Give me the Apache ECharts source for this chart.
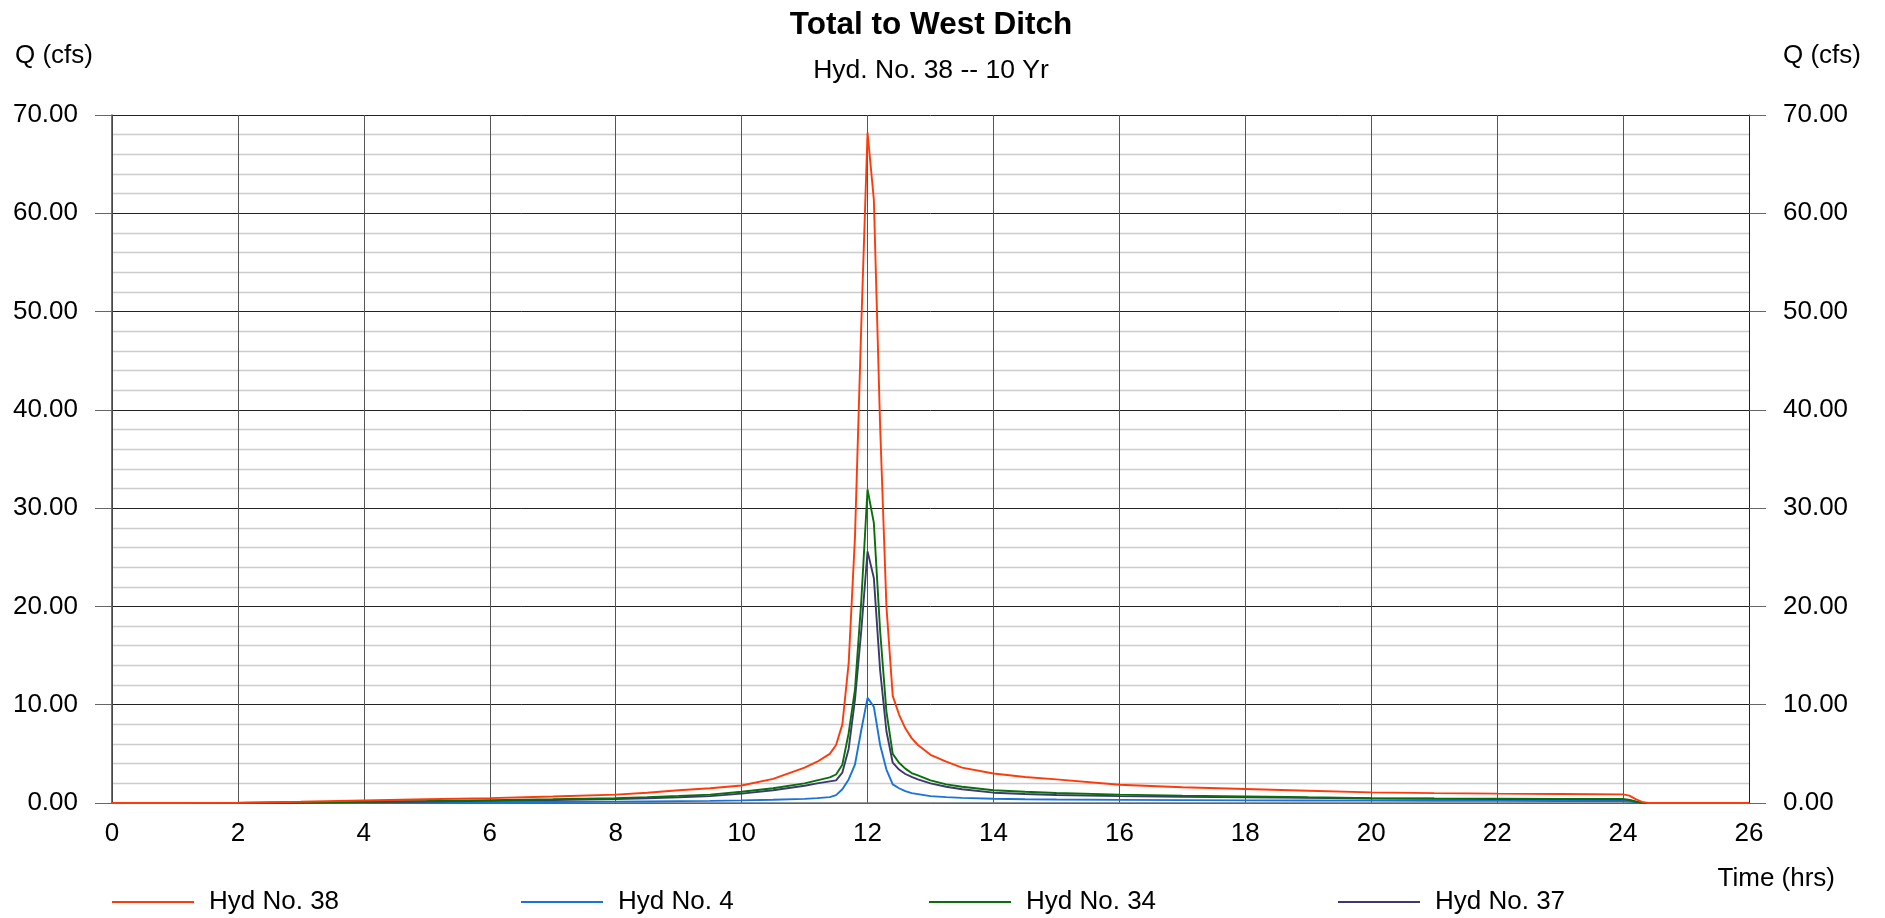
<!DOCTYPE html>
<html>
<head>
<meta charset="utf-8">
<script src="https://cdn.jsdelivr.net/npm/echarts@6/dist/echarts.min.js"></script>
<style>
html,body{margin:0;padding:0;background:#fff;}
#chart{width:1885px;height:918px;}
</style>
</head>
<body>
<div id="chart"></div>
<script>
var titleText = 'Total to West Ditch';
var subtitleText = 'Hyd. No. 38 -- 10 Yr';
var yAxisName = 'Q (cfs)';
var xAxisName = 'Time (hrs)';

var timeHrs = [0, 1, 2, 3, 4, 5, 6, 7, 8, 8.5, 9, 9.5, 10, 10.5, 11, 11.2, 11.4, 11.5, 11.6, 11.7, 11.8, 11.9, 12.0, 12.1, 12.2, 12.3, 12.4, 12.5, 12.6, 12.7, 12.8, 13.0, 13.25, 13.5, 14, 14.5, 15, 16, 17, 18, 19, 20, 21, 22, 23, 24, 24.1, 24.2, 24.3, 24.4, 25, 26];

var hyd38 = [0, 0, 0.02, 0.12, 0.26, 0.38, 0.5, 0.66, 0.85, 1.05, 1.3, 1.5, 1.78, 2.45, 3.6, 4.2, 5.0, 5.9, 8.0, 14.2, 27, 48.5, 68.2, 61.4, 38.3, 20, 10.9, 9.0, 7.6, 6.6, 5.9, 4.9, 4.2, 3.6, 3.0, 2.65, 2.4, 1.85, 1.6, 1.42, 1.25, 1.08, 1.0, 0.95, 0.92, 0.88, 0.75, 0.4, 0.12, 0, 0, 0];
var hyd4 = [0, 0, 0, 0.01, 0.03, 0.05, 0.07, 0.1, 0.14, 0.16, 0.19, 0.22, 0.27, 0.33, 0.42, 0.5, 0.6, 0.8, 1.4, 2.4, 3.9, 7.4, 10.7, 9.8, 5.9, 3.4, 1.9, 1.5, 1.2, 1.0, 0.9, 0.7, 0.6, 0.52, 0.43, 0.38, 0.35, 0.32, 0.29, 0.27, 0.25, 0.24, 0.23, 0.22, 0.21, 0.2, 0.16, 0.08, 0.02, 0, 0, 0];
var hyd34 = [0, 0, 0, 0.05, 0.13, 0.2, 0.28, 0.38, 0.5, 0.6, 0.72, 0.85, 1.15, 1.5, 2.0, 2.3, 2.6, 2.9, 3.9, 7.1, 11.5, 20.5, 31.9, 28.5, 17.5, 9.3, 5.0, 4.1, 3.5, 3.05, 2.8, 2.3, 1.9, 1.65, 1.3, 1.15, 1.02, 0.85, 0.75, 0.67, 0.58, 0.5, 0.47, 0.45, 0.42, 0.4, 0.32, 0.15, 0.04, 0, 0, 0];
var hyd37 = [0, 0, 0, 0.04, 0.1, 0.16, 0.22, 0.3, 0.4, 0.48, 0.58, 0.7, 0.95, 1.3, 1.75, 2.0, 2.2, 2.3, 3.1, 5.5, 10.5, 17.5, 25.6, 22.9, 13.5, 7.3, 4.1, 3.4, 2.95, 2.65, 2.4, 2.0, 1.65, 1.4, 1.05, 0.92, 0.82, 0.7, 0.63, 0.58, 0.52, 0.46, 0.43, 0.41, 0.39, 0.37, 0.3, 0.14, 0.04, 0, 0, 0];

var seriesNames = ['Hyd No. 38', 'Hyd No. 4', 'Hyd No. 34', 'Hyd No. 37'];
var seriesValues = [hyd38, hyd4, hyd34, hyd37];
var seriesColors = ['#ff3a0a', '#1874d8', '#0a6e0a', '#3a3a6e'];

var FONT = 'Liberation Sans, Arial, sans-serif';

function pairs(vals) {
  return timeHrs.map(function (t, i) { return [t, vals[i]]; });
}

var chart = echarts.init(document.getElementById('chart'), null, {renderer: 'canvas'});

var series = [];
var order = [1, 3, 2, 0];
order.forEach(function (k) {
  series.push({
    name: seriesNames[k],
    type: 'line',
    data: pairs(seriesValues[k]),
    showSymbol: false,
    symbol: 'none',
    lineStyle: {color: seriesColors[k], width: 1.9},
    itemStyle: {color: seriesColors[k]},
    z: 3 + (k === 0 ? 3 : 0),
    animation: false
  });
});

var legendLefts = [112, 521, 929, 1338];
var legends = seriesNames.map(function (n, i) {
  return {
    data: [n],
    left: legendLefts[i],
    top: 889,
    padding: 0,
    icon: 'rect',
    itemWidth: 82,
    itemHeight: 2,
    itemGap: 0,
    selectedMode: false,
    textStyle: {fontFamily: FONT, fontSize: 26, color: '#000', padding: [0, 0, 0, 10]}
  };
});

var yAxisCommon = {
  type: 'value',
  min: 0,
  max: 70,
  interval: 10,
  axisLine: {show: true, lineStyle: {color: '#444', width: 1.5}},
  axisTick: {show: true, inside: false, length: 17, lineStyle: {color: '#666', width: 1}},
  axisLabel: {
    fontFamily: FONT, fontSize: 26, color: '#000', margin: 34,
    formatter: function (v) { return v.toFixed(2); }
  }
};

var option = {
  animation: false,
  backgroundColor: '#fff',
  grid: {left: 112, right: 136, top: 115, bottom: 115, containLabel: false},
  legend: legends,
  xAxis: {
    type: 'value',
    min: 0,
    max: 26,
    interval: 2,
    axisLine: {show: true, onZero: false, lineStyle: {color: '#777', width: 1.5}},
    axisTick: {show: false},
    axisLabel: {fontFamily: FONT, fontSize: 26, color: '#000', margin: 18},
    splitLine: {show: true, lineStyle: {color: '#555', width: 1}}
  },
  yAxis: [
    Object.assign({}, yAxisCommon, {
      position: 'left',
      splitLine: {show: true, lineStyle: {color: '#222', width: 1}},
      minorTick: {show: false, splitNumber: 5},
      minorSplitLine: {show: true, lineStyle: {color: '#cccccc', width: 1.3}}
    }),
    Object.assign({}, yAxisCommon, {
      position: 'right',
      axisLine: {show: true, lineStyle: {color: '#222', width: 1}},
      splitLine: {show: false}
    })
  ],
  series: series,
  graphic: [
    {type: 'text', x: 931, y: 25, style: {text: titleText, font: 'bold 31.5px ' + FONT, fill: '#000', textAlign: 'center', textVerticalAlign: 'middle'}},
    {type: 'text', x: 931, y: 71, style: {text: subtitleText, font: '26.5px ' + FONT, fill: '#000', textAlign: 'center', textVerticalAlign: 'middle'}},
    {type: 'text', x: 15, y: 56, style: {text: yAxisName, font: '26px ' + FONT, fill: '#000', textAlign: 'left', textVerticalAlign: 'middle'}},
    {type: 'text', x: 1783, y: 56, style: {text: yAxisName, font: '26px ' + FONT, fill: '#000', textAlign: 'left', textVerticalAlign: 'middle'}},
    {type: 'text', x: 1835, y: 879, style: {text: xAxisName, font: '26px ' + FONT, fill: '#000', textAlign: 'right', textVerticalAlign: 'middle'}}
  ]
};

chart.setOption(option);
</script>
</body>
</html>
